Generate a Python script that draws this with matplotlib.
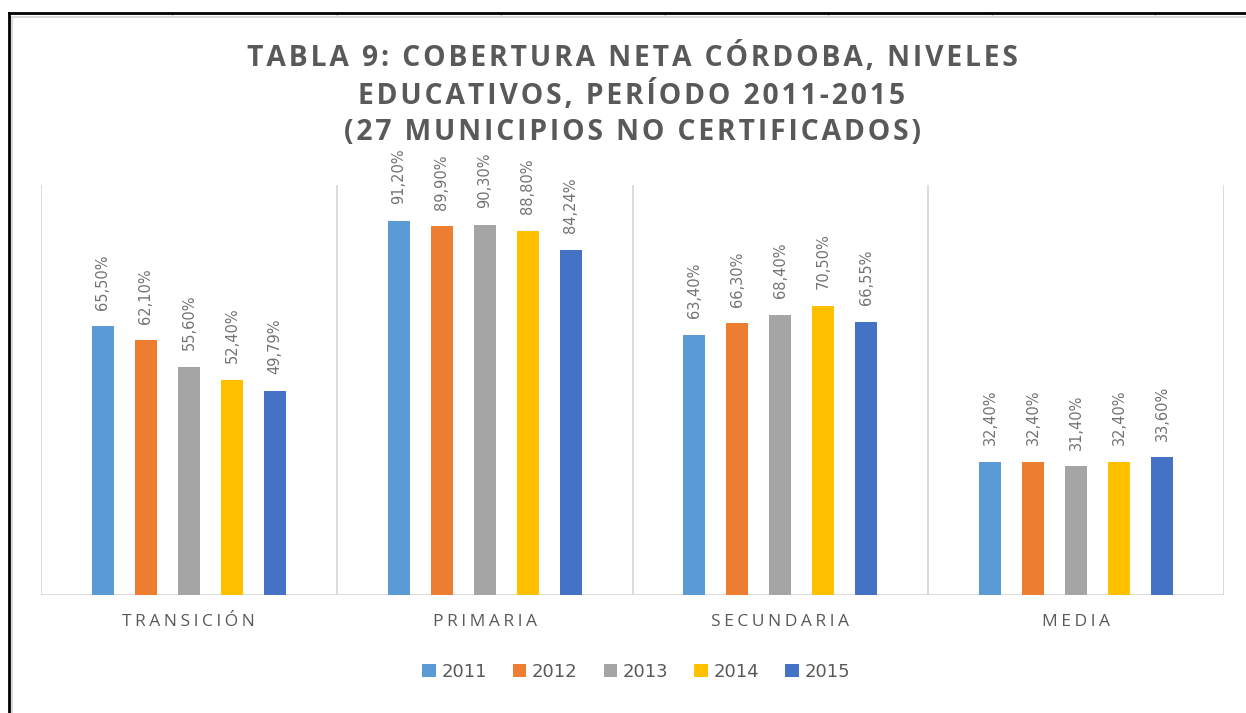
import matplotlib.pyplot as plt
from matplotlib.lines import Line2D
from matplotlib.patches import Patch

# data
categories = ["TRANSICIÓN", "PRIMARIA", "SECUNDARIA", "MEDIA"]
years = ["2011", "2012", "2013", "2014", "2015"]
values = {
    "2011": [65.50, 91.20, 63.40, 32.40],
    "2012": [62.10, 89.90, 66.30, 32.40],
    "2013": [55.60, 90.30, 68.40, 31.40],
    "2014": [52.40, 88.80, 70.50, 32.40],
    "2015": [49.79, 84.24, 66.55, 33.60],
}
colors = ["#5b9bd5", "#ed7d31", "#a5a5a5", "#ffc000", "#4472c4"]
title_lines = ["TABLA 9: COBERTURA NETA CÓRDOBA, NIVELES",
               "EDUCATIVOS, PERÍODO 2011-2015",
               "(27 MUNICIPIOS NO CERTIFICADOS)"]

W, H = 1246, 713
fig = plt.figure(figsize=(W / 100, H / 100), dpi=100)
fig.patch.set_facecolor("white")

def spaced(s, n=1):
    return ("\u200a" * n).join(s)

txt_color = "#595959"
grid_color = "#d9d9d9"

# plot area
left, right, top, bottom = 41, 1224, 185, 595
ax = fig.add_axes([left / W, 1 - bottom / H, (right - left) / W, (bottom - top) / H])
ax.set_xlim(-0.5, len(categories) - 0.5)
ax.set_ylim(0, 100)

pitch = 0.1453
bw = 0.0743
for i, y in enumerate(years):
    xs = [c + (i - 2) * pitch for c in range(len(categories))]
    bars = ax.bar(xs, values[y], width=bw, color=colors[i], label=y, zorder=3)
    for x, v in zip(xs, values[y]):
        lbl = f"{v:.2f}%".replace(".", ",")
        ax.annotate(lbl, (x, v), xytext=(0, 12), textcoords="offset points",
                    rotation=90, ha="center", va="bottom", fontsize=10.5,
                    color="#737373", family=["DejaVu Sans"])

for s in ax.spines.values():
    s.set_visible(False)
for xv in [c - 0.5 for c in range(len(categories) + 1)]:
    ax.axvline(xv, color=grid_color, lw=1.3, zorder=1)
ax.axhline(0, color=grid_color, lw=1.3, zorder=1)
ax.set_yticks([])
ax.set_xticks(range(len(categories)))
ax.set_xticklabels([spaced(c, 2) for c in categories], fontsize=12.5,
                   color=txt_color, family=["Open Sans", "DejaVu Sans"])
ax.tick_params(axis="x", length=0, pad=14)

# title
for k, line in enumerate(title_lines):
    fig.text(632 / W, 1 - (57 + k * 38) / H, spaced(line, 1), ha="center", va="center",
             fontsize=20.3, fontweight="bold", color=txt_color,
             family=["Open Sans", "DejaVu Sans"])

# legend
handles = [Patch(facecolor=c, edgecolor="none") for c in colors]
fig.legend(handles, years, loc="center", bbox_to_anchor=(636 / W, 1 - 672 / H),
           ncol=5, frameon=False, handlelength=0.75, handleheight=0.75,
           handletextpad=0.3, columnspacing=1.45, labelcolor=txt_color,
           prop={"family": ["DejaVu Sans"], "size": 13})

# frame around chart (spreadsheet look)
def fline(xs, ys, **kw):
    fig.add_artist(Line2D([x / W for x in xs], [1 - y / H for y in ys], **kw))

for gx in [172, 337, 501, 665, 828, 992, 1155]:
    fline([gx, gx], [13, 17], color="#c8c8c8", lw=1)
fline([12, W], [17, 17], color=grid_color, lw=1.5)
fline([12, 12], [17, H], color=grid_color, lw=1.5)
fline([9, W], [13, 13], color="black", lw=2)
fline([9, 9], [13, H], color="black", lw=2)

fig.savefig("out.png", dpi=100)
